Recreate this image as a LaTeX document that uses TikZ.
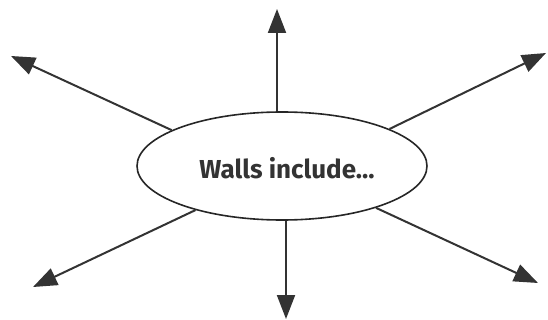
\documentclass[tikz,border=0pt]{standalone}
\usepackage{fontspec}
\setmainfont{Fira Sans}
\usetikzlibrary{shapes.geometric,arrows.meta}
\begin{document}
\begin{tikzpicture}[x=1pt,y=-1pt,
  bubble/.style={ellipse,draw=black!85,line width=1.6pt,minimum width=290pt,minimum height=108pt,inner sep=0pt},
  spoke/.style={draw=black!80,line width=2pt,-{Triangle[length=24pt,width=18pt]}}]
\useasboundingbox (0,0) rectangle (548,320);
\node[bubble] (e) at (282,166) {};
\node[font=\fontsize{26}{30}\selectfont\bfseries,text=black!80] (t) at (287,168) {Walls include...};
\coordinate (pu) at (277,9);
\coordinate (pul) at (11,56);
\coordinate (pur) at (546,53);
\coordinate (pll) at (33,287);
\coordinate (plr) at (538,283);
\coordinate (pd) at (286,319);
\draw[spoke] (pu |- e.north) -- (pu);
\draw[spoke] (e.162) -- (pul);
\draw[spoke] (e.19) -- (pur);
\draw[spoke] (e.207) -- (pll);
\draw[spoke] (e.336) -- (plr);
\draw[spoke] (pd |- e.south) -- (pd);
\end{tikzpicture}
\end{document}
